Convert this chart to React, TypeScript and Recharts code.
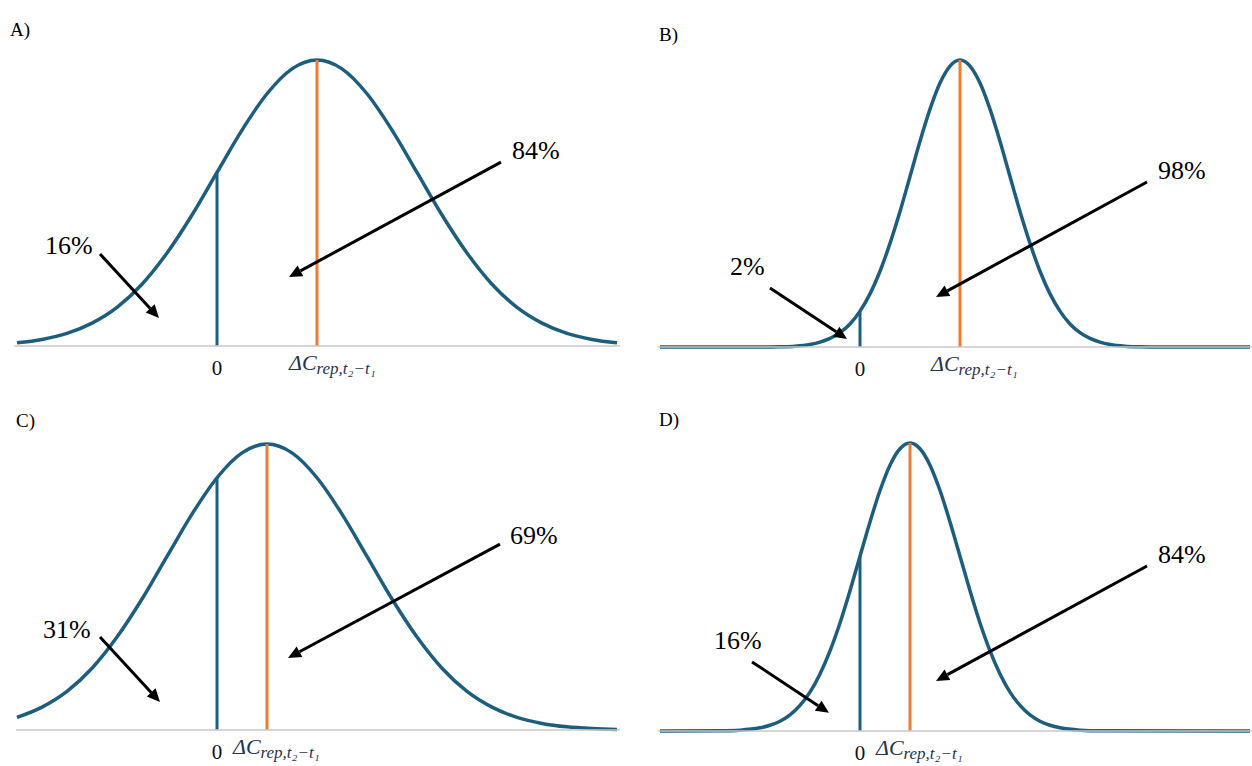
import { LineChart, Line, XAxis, YAxis, ReferenceLine, ReferenceDot } from "recharts";

const BLUE = "#1d5e7e";
const ORANGE = "#ed7d31";
const SERIF = "Liberation Serif, Times New Roman, Times, serif";

// x: distance from the zero line, y: density as % of the peak
const xA = [-2, -1.75, -1.5, -1.25, -1, -0.75, -0.5, -0.25, 0, 0.25, 0.5, 0.75, 1, 1.25, 1.5, 1.75, 2, 2.25, 2.5, 2.75, 3, 3.25, 3.5, 3.75, 4];
const yA = [1.1, 2.3, 4.4, 8.0, 13.5, 21.6, 32.5, 45.8, 60.7, 75.5, 88.2, 96.9, 100, 96.9, 88.2, 75.5, 60.7, 45.8, 32.5, 21.6, 13.5, 8.0, 4.4, 2.3, 1.1];

const xB = [-2, -1, -0.8, -0.65, -0.5, -0.4, -0.3, -0.2, -0.1, 0, 0.1, 0.2, 0.3, 0.4, 0.5, 0.6, 0.7, 0.8, 0.9, 1, 1.1, 1.2, 1.3, 1.4, 1.5, 1.6, 1.7, 1.8, 1.9, 2, 2.1, 2.2, 2.3, 2.4, 2.5, 2.65, 2.8, 3, 3.9];
const yB = [0, 0, 0.1, 0.3, 0.9, 1.7, 3.0, 5.0, 8.0, 12.5, 18.5, 26.4, 36.1, 47.2, 59.4, 71.7, 82.9, 92.0, 97.9, 100, 97.9, 92.0, 82.9, 71.7, 59.4, 47.2, 36.1, 26.4, 18.5, 12.5, 8.0, 5.0, 3.0, 1.7, 0.9, 0.3, 0.1, 0, 0];

const xC = [-2, -1.75, -1.5, -1.25, -1, -0.75, -0.5, -0.25, 0, 0.25, 0.5, 0.75, 1, 1.25, 1.5, 1.75, 2, 2.25, 2.5, 2.75, 3, 3.25, 3.5, 3.75, 4];
const yC = [4.4, 8.0, 13.5, 21.6, 32.5, 45.8, 60.7, 75.5, 88.2, 96.9, 100, 96.9, 88.2, 75.5, 60.7, 45.8, 32.5, 21.6, 13.5, 8.0, 4.4, 2.3, 1.1, 0.5, 0.2];

const xD = [-2, -1.4, -1.2, -1, -0.9, -0.8, -0.7, -0.6, -0.5, -0.4, -0.3, -0.2, -0.1, 0, 0.1, 0.2, 0.3, 0.4, 0.5, 0.6, 0.7, 0.8, 0.9, 1, 1.1, 1.2, 1.3, 1.4, 1.5, 1.6, 1.7, 1.8, 1.9, 2, 2.2, 2.4, 3.9];
const yD = [0, 0.1, 0.3, 1.1, 2.0, 3.4, 5.6, 8.9, 13.5, 19.8, 27.8, 37.5, 48.7, 60.7, 72.6, 83.5, 92.3, 98.0, 100, 98.0, 92.3, 83.5, 72.6, 60.7, 48.7, 37.5, 27.8, 19.8, 13.5, 8.9, 5.6, 3.4, 2.0, 1.1, 0.3, 0.1, 0];

// mean position and curve height at the zero line
const means = [1, 1, 0.5, 0.5];
const zeroHeights = [60.7, 12.5, 88.2, 60.7];
const panelNames = ["A)", "B)", "C)", "D)"];
const rightPct = ["84%", "98%", "69%", "84%"];
const leftPct = ["16%", "2%", "31%", "16%"];

type Pt = [number, number];
interface Note {
  text: string;
  at: Pt;
  from: Pt;
  to: Pt;
}

function renderArrow(p: any) {
  const { x1, y1, x2, y2 } = p;
  const ang = Math.atan2(y2 - y1, x2 - x1);
  const len = 13;
  const half = 6;
  const bx = x2 - len * Math.cos(ang);
  const by = y2 - len * Math.sin(ang);
  const nx = -Math.sin(ang);
  const ny = Math.cos(ang);
  return (
    <g>
      <line x1={x1} y1={y1} x2={bx} y2={by} stroke="#000" strokeWidth={3} />
      <polygon
        points={`${x2},${y2} ${bx + nx * half},${by + ny * half} ${bx - nx * half},${by - ny * half}`}
        fill="#000"
      />
    </g>
  );
}

function makeTick(dx: number) {
  return (p: any) => {
    const v = p.payload.value;
    if (v === 0) {
      return (
        <text x={p.x} y={p.y + 21} textAnchor="middle" fontSize={21} style={{ fontFamily: SERIF }} fill="#111">
          0
        </text>
      );
    }
    return (
      <text x={p.x + dx} y={p.y + 16} style={{ fontFamily: SERIF, fontStyle: "italic" }} fill="#26344f">
        <tspan fontSize={22}>ΔC</tspan>
        <tspan fontSize={17} dy={4}>rep,t₂−t₁</tspan>
      </text>
    );
  };
}

interface PanelProps {
  idx: number;
  xs: number[];
  ys: number[];
  left: number;
  top: number;
  width: number;
  height: number;
  margin: { top: number; left: number; right: number; bottom: number };
  axisHeight: number;
  domain: [number, number];
  tickDx: number;
  notes: Note[];
}

function Panel(props: PanelProps) {
  const { idx, xs, ys, left, top, width, height, margin, axisHeight, domain, tickDx, notes } = props;
  const data = xs.map((x, i) => ({ x, y: ys[i] }));
  const mean = means[idx];
  return (
    <div style={{ position: "absolute", left, top, width, height }}>
      <LineChart width={width} height={height} data={data} margin={margin}>
        <XAxis
          dataKey="x"
          type="number"
          domain={domain}
          ticks={[0, mean]}
          interval={0}
          tickLine={false}
          axisLine={{ stroke: "#c8c8c8", strokeWidth: 1.5 }}
          tick={makeTick(tickDx)}
          height={axisHeight}
        />
        <YAxis hide domain={[0, 100]} />
        <Line
          dataKey="y"
          type="monotone"
          stroke={BLUE}
          strokeWidth={3.5}
          dot={false}
          isAnimationActive={false}
        />
        <ReferenceLine
          segment={[
            { x: 0, y: 0 },
            { x: 0, y: zeroHeights[idx] },
          ]}
          stroke={BLUE}
          strokeWidth={3}
        />
        <ReferenceLine
          segment={[
            { x: mean, y: 0 },
            { x: mean, y: 100 },
          ]}
          stroke={ORANGE}
          strokeWidth={3}
        />
        {notes.map((n, i) => (
          <ReferenceLine
            key={"a" + i}
            segment={[
              { x: n.from[0], y: n.from[1] },
              { x: n.to[0], y: n.to[1] },
            ]}
            shape={renderArrow}
          />
        ))}
        {notes.map((n, i) => (
          <ReferenceDot
            key={"t" + i}
            x={n.at[0]}
            y={n.at[1]}
            r={0}
            shape={(p: any) => (
              <text x={p.cx} y={p.cy} fontSize={26} style={{ fontFamily: SERIF }} fill="#000">
                {n.text}
              </text>
            )}
          />
        ))}
      </LineChart>
    </div>
  );
}

const notesA: Note[] = [
  { text: rightPct[0], at: [2.95, 65.4], from: [2.84, 64.3], to: [0.72, 24.1] },
  { text: leftPct[0], at: [-1.72, 32.2], from: [-1.17, 32.2], to: [-0.58, 9.8] },
];
const notesB: Note[] = [
  { text: rightPct[1], at: [2.98, 58.5], from: [2.87, 57.5], to: [0.76, 17.4] },
  { text: leftPct[1], at: [-1.3, 25.1], from: [-0.9, 20.6], to: [-0.13, 2.8] },
];
const notesC: Note[] = [
  { text: rightPct[2], at: [2.93, 65.0], from: [2.83, 65.0], to: [0.71, 25.2] },
  { text: leftPct[2], at: [-1.74, 32.2], from: [-1.17, 32.5], to: [-0.57, 9.8] },
];
const notesD: Note[] = [
  { text: rightPct[3], at: [2.98, 58.3], from: [2.87, 57.3], to: [0.76, 17.4] },
  { text: leftPct[3], at: [-1.46, 28.5], from: [-1.08, 24.0], to: [-0.31, 6.3] },
];

const labelPos = [
  { left: 10, top: 20 },
  { left: 659, top: 25 },
  { left: 16, top: 411 },
  { left: 659, top: 410 },
];

export default function App() {
  return (
    <div
      style={{
        position: "absolute",
        left: 0,
        top: 0,
        width: 1252,
        height: 766,
        background: "#fff",
        overflow: "hidden",
      }}
    >
      <Panel
        idx={0}
        xs={xA}
        ys={yA}
        left={0}
        top={0}
        width={640}
        height={390}
        margin={{ top: 60, left: 14, right: 20, bottom: 0 }}
        axisHeight={44}
        domain={[-2.03, 4.03]}
        tickDx={-28}
        notes={notesA}
      />
      <Panel
        idx={1}
        xs={xB}
        ys={yB}
        left={640}
        top={0}
        width={612}
        height={390}
        margin={{ top: 60, left: 18, right: 0, bottom: 0 }}
        axisHeight={43}
        domain={[-2.02, 3.92]}
        tickDx={-29}
        notes={notesB}
      />
      <Panel
        idx={2}
        xs={xC}
        ys={yC}
        left={0}
        top={390}
        width={640}
        height={376}
        margin={{ top: 54, left: 16, right: 20, bottom: 0 }}
        axisHeight={36}
        domain={[-2.01, 4.03]}
        tickDx={-34}
        notes={notesC}
      />
      <Panel
        idx={3}
        xs={xD}
        ys={yD}
        left={640}
        top={390}
        width={612}
        height={376}
        margin={{ top: 53, left: 18, right: 0, bottom: 0 }}
        axisHeight={35}
        domain={[-2.02, 3.92]}
        tickDx={-34}
        notes={notesD}
      />
      {panelNames.map((n, i) => (
        <div
          key={n}
          style={{
            position: "absolute",
            left: labelPos[i].left,
            top: labelPos[i].top,
            fontFamily: SERIF,
            fontSize: 19,
            lineHeight: "19px",
            color: "#000",
          }}
        >
          {n}
        </div>
      ))}
    </div>
  );
}
